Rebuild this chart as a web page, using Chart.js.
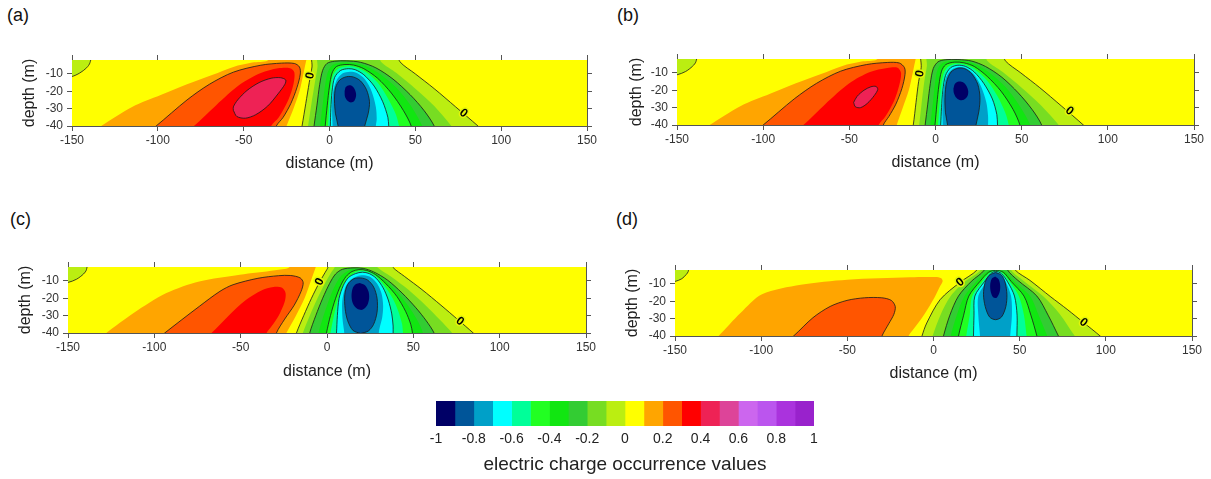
<!DOCTYPE html>
<html>
<head>
<meta charset="utf-8">
<script src="https://cdn.jsdelivr.net/npm/chart.js"></script>
<style>
  body { margin: 0; background: #fff; width: 1211px; height: 479px; position: relative; overflow: hidden;
         font-family: "Liberation Sans", Arial, sans-serif; }
  .tag { position: absolute; font-size: 18px; line-height: 20px; color: #111; }
</style>
</head>
<body>
<script>
// ---- axes / ticks ----
const xTicks = [-150, -100, -50, 0, 50, 100, 150];
const yTicks = [-40, -30, -20, -10];
const xRange = [-150, 150];
const yRange = [-40, -2];
const levelTicks = [-1, -0.8, -0.6, -0.4, -0.2, 0, 0.2, 0.4, 0.6, 0.8, 1];
const levelEdges = [-1, -0.9, -0.8, -0.7, -0.6, -0.5, -0.4, -0.3, -0.2, -0.1, 0,
                    0.1, 0.2, 0.3, 0.4, 0.5, 0.6, 0.7, 0.8, 0.9, 1];
const levelColors = ['#000066', '#005599', '#00a0c8', '#00ffff', '#00ff99', '#22ff22', '#11e611',
                     '#33cc33', '#77dd22', '#bbee11', '#ffff00', '#ffa500', '#ff5500', '#ff0000',
                     '#ee2255', '#dd4499', '#cc66ee', '#bb55ee', '#aa33dd', '#9922cc'];

// ---- contour outlines: [level, [[distance, depth], ...]] ----
const contoursA = [
  [0.1, [[-140,-45],[-133,-40],[-115,-29],[-98,-22],[-83,-16],[-68,-10.5],[-56,-6],[-45,-3.5],[-36,-2.3],[-33,3],[-12,3],[-13.5,-2],[-15,-9],[-17.5,-20],[-21,-30],[-25,-40],[-26,-45]]],
  [0.2, [[-108,-45],[-101,-40],[-83,-25],[-70,-16],[-56,-9],[-40,-5],[-28,-3.8],[-20.5,-4],[-17.5,-6],[-17,-10],[-19,-18],[-22.5,-27],[-27,-35],[-31,-40],[-32,-45]]],
  [0.3, [[-86,-45],[-79,-40],[-66,-28],[-52,-16],[-40,-9.5],[-30,-6.8],[-23,-6.7],[-20.5,-9],[-21,-16],[-24,-25],[-29.5,-35],[-34,-40],[-35,-45]]],
  [0.4, [[-56,-31],[-54,-34.5],[-49,-35.5],[-43,-33.5],[-36,-28.5],[-30,-21.5],[-26,-16],[-25.5,-13.5],[-28.5,-12.2],[-34,-12.5],[-41,-15],[-48,-19.5],[-53.5,-25],[-56,-29],[-56,-31]]],
  [0, [[-155,-12],[-150,-11.5],[-145.5,-9.5],[-141.5,-6.5],[-139.5,-3.5],[-139,3],[-155,3]]],
  [0, [[-17,-45],[-16,-40],[-13.8,-27],[-11.8,-15],[-10.2,-6],[-9.5,3],[39,3],[41,-3],[50,-10],[61,-18.5],[73.5,-29],[86.5,-40],[92,-45]]],
  [-0.1, [[-13.5,-45],[-12.5,-40],[-10.5,-27],[-8.5,-15],[-7,-6],[-6.5,3],[28,3],[30,-3],[39,-9.5],[50,-18.5],[61,-28.5],[71,-40],[75,-45]]],
  [-0.2, [[-9.5,-45],[-9,-40],[-7.3,-28],[-5.7,-16],[-4,-8],[-1.5,-4],[3,-2.7],[10,-2.5],[18,-3.3],[27,-6.5],[37,-13],[47,-22],[55,-31],[61,-40],[62,-45]]],
  [-0.3, [[-6,-45],[-5.5,-40],[-4,-28],[-2.5,-16],[-0.8,-8.5],[2,-4.8],[8,-3.5],[14,-3.7],[21,-5.5],[30,-10.5],[39,-18],[47.5,-28.5],[54,-40],[55,-45]]],
  [-0.4, [[-3,-45],[-2.5,-40],[-1.3,-28],[0,-17],[1.5,-9.5],[4,-5.8],[9,-4.6],[14,-4.9],[20,-7],[28,-12.5],[36,-21],[43,-31],[47.6,-40],[48,-45]]],
  [-0.5, [[-1,-45],[-0.8,-40],[-0.2,-29],[0.6,-18],[2.2,-10.5],[5,-7],[10,-5.7],[15,-6.2],[21,-8.8],[28,-15],[34,-24],[38.5,-33],[40.5,-40],[41,-45]]],
  [-0.6, [[0.5,-45],[0.5,-40],[0.8,-30],[1.5,-20],[3,-12],[6.5,-8],[11,-7],[15,-7.6],[20,-10.5],[26,-17],[31,-26],[34,-35],[34.5,-40],[35,-45]]],
  [-0.7, [[1.8,-45],[1.8,-40],[1.5,-31],[1.9,-22],[4,-14],[7.5,-9.8],[12,-8.7],[16,-9.5],[20.5,-13],[24.5,-20],[27,-29],[27.5,-36],[27,-40],[27,-45]]],
  [-0.8, [[5,-45],[5,-40],[3.5,-33],[2.9,-25],[3.5,-18],[6,-13.5],[10,-11.6],[14,-11.8],[18,-14],[21.5,-19],[23.3,-26],[22.5,-33],[20.5,-40],[20,-45]]],
  [-0.9, [[8.8,-20],[9.5,-17.6],[11.5,-16.6],[13.5,-17.2],[15,-19.5],[15.5,-22.5],[14.5,-25.5],[12.5,-26.5],[10.5,-25.5],[9,-23],[8.8,-20]]]
];
const zeroLabelsA = [[-11.2, -11, -80], [78, -32.7, 39]];

const contoursB = [
  [0.1, [[-138,-45],[-131,-40],[-113,-29],[-96,-22],[-81,-16],[-66,-10.5],[-54,-6],[-43,-3.5],[-34,-2.3],[-31,3],[-10,3],[-11.5,-2],[-13,-9],[-15.5,-20],[-19,-30],[-22.5,-40],[-23.5,-45]]],
  [0.2, [[-107,-45],[-100,-40],[-82,-25],[-69,-16],[-55,-9],[-40,-5.2],[-28,-4],[-21,-4.3],[-18,-7],[-17.7,-11],[-19.5,-19],[-23,-28],[-27,-35],[-30.3,-40],[-31,-45]]],
  [0.3, [[-84,-45],[-76.7,-40],[-64,-28],[-50,-16],[-38,-9.5],[-28,-7.2],[-22,-7],[-20,-10],[-21,-17],[-24,-26],[-29,-35],[-33,-40],[-34,-45]]],
  [0.4, [[-47.5,-27],[-46.5,-29.5],[-43.5,-30],[-39.5,-27.5],[-35.5,-23],[-33.5,-19.5],[-34.5,-17.8],[-37.5,-18],[-41.5,-20],[-45.5,-23.5],[-47.5,-27]]],
  [0, [[-155,-11.5],[-150,-11.1],[-145,-9.2],[-141,-6.2],[-139,-3.5],[-138.6,3],[-155,3]]],
  [0, [[-14,-45],[-12.9,-40],[-11.3,-27],[-9.8,-15],[-8.3,-7],[-7.5,3],[38.4,3],[40.5,-3],[49.5,-10],[60.5,-18.5],[73,-29],[85.8,-40],[91,-45]]],
  [-0.1, [[-10.5,-45],[-9.5,-40],[-8,-27],[-6.5,-15],[-5,-6],[-4.5,3],[28,3],[30,-3],[39,-9.5],[50,-18.5],[61,-28.5],[71.5,-40],[75,-45]]],
  [-0.2, [[-6.5,-45],[-6,-40],[-4.5,-28],[-3,-16],[-1.3,-7.5],[1.5,-3.6],[6,-2.4],[13,-2.3],[21,-3.2],[29,-6.3],[38.5,-12.5],[48,-21.5],[56,-31],[61.6,-40],[62,-45]]],
  [-0.3, [[-3.5,-45],[-3,-40],[-1.6,-28],[-0.3,-16],[1.2,-8],[4,-4.3],[10,-3],[16,-3.2],[23,-5],[31.5,-10],[40.5,-18],[48.5,-28.5],[55,-40],[56,-45]]],
  [-0.4, [[-1,-45],[-0.3,-40],[0.8,-28],[2,-17],[3.5,-9],[6,-5.2],[11,-3.8],[16.5,-4.2],[22.5,-6.3],[30,-12],[38,-20.5],[45,-31],[49,-40],[49.5,-45]]],
  [-0.5, [[1,-45],[1.5,-40],[2.3,-29],[3.2,-18],[4.8,-10],[7.5,-6.3],[12,-4.8],[17,-5.3],[23,-8],[30,-14.5],[36,-23.5],[40.5,-33],[42.5,-40],[43,-45]]],
  [-0.6, [[2.5,-45],[3,-40],[3.5,-30],[4.3,-20],[5.8,-11.5],[8.8,-7],[13,-5.6],[17.5,-6.3],[22.5,-9.5],[28,-16],[33,-25],[35.6,-34],[36,-40],[36.5,-45]]],
  [-0.7, [[4,-45],[4.2,-40],[4,-31],[4.4,-21],[6.2,-12.5],[9.5,-8],[14,-6.6],[18,-7.4],[22.5,-11],[26.5,-18],[29.5,-27],[30.5,-35],[30.5,-40],[30.5,-45]]],
  [-0.8, [[7,-45],[7,-40],[5.8,-33],[5.5,-24],[6.5,-15],[9,-9.5],[13,-7.3],[17,-7.6],[21,-10.5],[24.5,-16.5],[25.8,-24],[25.2,-32],[23.5,-40],[23,-45]]],
  [-0.9, [[10.4,-19],[11.3,-16.2],[13.5,-15],[16,-15.4],[18,-17.5],[19,-20.5],[18.5,-23.5],[16.5,-25.5],[14,-25.6],[11.8,-24],[10.6,-21.5],[10.4,-19]]]
];
const zeroLabelsB = [[-9, -10.5, -80], [77.7, -32, 39]];

const contoursC = [
  [0.1, [[-134,-45],[-127.8,-40],[-112,-28.5],[-93,-17],[-74,-10.3],[-50.5,-6.4],[-30,-3.8],[-22,-2.3],[-20,3],[-5,3],[-6.5,-2],[-9,-9],[-13,-20],[-18,-30],[-23.5,-40],[-25,-45]]],
  [0.2, [[-100,-45],[-94,-40],[-74,-24.7],[-62,-16],[-54.4,-12.2],[-40,-8.5],[-28,-7],[-21,-6.9],[-15.5,-8.3],[-13.8,-11],[-15,-16],[-19,-24],[-24.5,-32],[-29.3,-40],[-30,-45]]],
  [0.3, [[-73,-45],[-66.9,-40],[-57,-30],[-47,-21],[-38,-15.5],[-31,-13.5],[-26,-14],[-24,-17],[-24.5,-22],[-28,-30],[-32,-36],[-35,-40],[-36,-45]]],
  [0, [[-155,-11.3],[-150,-10.9],[-145,-9],[-141,-6],[-139.3,-3.5],[-139,3],[-155,3]]],
  [0, [[-19,-45],[-17.7,-40],[-13.5,-30],[-9,-20],[-4.2,-10.5],[-1,-5],[0.6,-2],[1,3],[36,3],[38,-2],[45,-7.5],[55,-15],[66,-24],[76,-32.5],[84.7,-40],[90,-45]]],
  [-0.1, [[-15,-45],[-14,-40],[-10,-30],[-5.5,-20],[-1,-11],[2.5,-5],[4.5,-2],[5,3],[27,3],[29,-2],[37,-7.5],[47,-15],[57,-24],[65.5,-32.5],[72.5,-40],[76,-45]]],
  [-0.2, [[-10.5,-45],[-10,-40],[-6.5,-30],[-2.5,-20],[1.5,-11.5],[5,-6],[9,-3.3],[15,-2.5],[21,-2.8],[27,-4.8],[35,-9.5],[43.5,-17],[51.5,-25.5],[57.5,-33],[62,-40],[63,-45]]],
  [-0.3, [[-5.5,-45],[-5,-40],[-2,-30],[1.5,-20],[5,-12],[8.5,-6.8],[12.5,-4],[17,-3],[22,-3.4],[27.5,-5.5],[34.5,-10.5],[42,-18],[48.5,-26.5],[53,-34],[55.5,-40],[56,-45]]],
  [-0.4, [[-1,-45],[-0.3,-40],[2,-30],[5,-20],[8,-12.5],[11,-7.5],[14.5,-4.6],[18.5,-3.5],[23,-4],[28,-6.3],[34,-11.5],[40.5,-19],[45.5,-27.5],[48.5,-35],[49.5,-40],[50,-45]]],
  [-0.5, [[1.5,-45],[2,-40],[4,-30],[6.5,-20],[9.5,-12.5],[12.5,-8],[16,-5.3],[19.5,-4.2],[23.5,-4.8],[28,-7.2],[33,-12.5],[38,-20],[41.5,-28],[43.5,-35],[44,-40],[44.5,-45]]],
  [-0.6, [[5,-45],[5.5,-40],[6,-30],[7,-20],[9.5,-12.5],[12.5,-8],[16.5,-5.8],[20.5,-5],[24.5,-5.8],[28.5,-8.5],[32.5,-14],[35.5,-21],[37.5,-29],[38.3,-36],[38.3,-40],[38.5,-45]]],
  [-0.7, [[10,-45],[10,-40],[9,-32],[8.8,-22],[10.5,-14],[13.5,-9.5],[17.5,-7.3],[21.5,-6.8],[25.5,-8],[29,-11.5],[31.5,-17],[32.5,-24],[32,-31],[30.5,-37],[30,-40],[30,-45]]],
  [-0.8, [[19.5,-40.3],[15,-38.5],[12,-33],[10.5,-26],[10.3,-18],[12,-12],[15.5,-8.8],[19.5,-8.3],[23.5,-9.5],[27,-13.5],[29,-20],[29,-28],[27,-35],[24,-38.8],[19.5,-40.3]]],
  [-0.9, [[19,-11.2],[22,-12.5],[24,-16],[24.4,-20],[23.3,-24],[20.5,-26.6],[17.5,-26],[15,-23],[14.2,-18.5],[15,-14],[16.8,-11.8],[19,-11.2]]]
];
const zeroLabelsC = [[-4.2, -10.5, -64], [77, -33.3, 38]];

const contoursD = [
  [0.1, [[-130,-45],[-124.7,-40],[-112,-26.8],[-99.5,-16],[-77,-10.5],[-50,-7.6],[-13.5,-6.2],[1,-6.1],[4.5,-6.8],[5.3,-8.5],[3.5,-12],[0.5,-18],[-5,-27],[-10,-34],[-14.5,-40],[-16,-45]]],
  [0.2, [[-88,-45],[-81.2,-40],[-70,-29.5],[-60,-23],[-50.2,-19.5],[-40,-18],[-30,-18],[-24.5,-19.5],[-22.2,-23],[-23,-27.5],[-26,-33],[-29.9,-40],[-31,-45]]],
  [0, [[-155,-9],[-150,-8.6],[-146,-7],[-143.5,-4.6],[-142.3,-2.8],[-142,3],[-155,3]]],
  [0, [[-8,-45],[-6.7,-40],[-3.9,-32.5],[3.9,-19],[15.5,-9],[25.2,-2],[26,3],[46.5,3],[47.4,-2],[56,-8],[67.7,-17.2],[78,-25],[87,-32.2],[96.7,-40],[102,-45]]],
  [-0.1, [[-1.5,-45],[-0.5,-40],[4,-28],[10,-17],[18.5,-8.5],[27.5,-2],[28,3],[44.5,3],[45,-2],[52,-8],[63.5,-17],[73,-27],[82,-40],[86,-45]]],
  [-0.2, [[5,-45],[5.8,-40],[9.5,-28],[14.5,-17],[22,-8.5],[29.5,-2],[30,3],[42.5,3],[43,-2],[49,-8],[60,-17],[66.5,-28],[72.5,-40],[75,-45]]],
  [-0.3, [[9.5,-45],[10,-40],[13.5,-28],[18,-17],[25,-8.5],[31,-3],[36,-2.1],[41.5,-3],[46.5,-8.5],[56,-17],[61,-28],[66,-40],[67.5,-45]]],
  [-0.4, [[14,-45],[14.5,-40],[17.5,-28],[20.5,-17],[27,-8.5],[32,-3.3],[36,-2.3],[40.5,-3.3],[45,-8.5],[52.5,-17],[56.5,-28],[60,-40],[61,-45]]],
  [-0.5, [[18.5,-45],[19,-40],[21,-28],[22.5,-17],[28.5,-8.5],[32.8,-3.6],[36,-2.5],[39.7,-3.6],[44,-8.5],[49.5,-17],[52.5,-28],[54,-40],[54.5,-45]]],
  [-0.6, [[23,-45],[23.2,-40],[23.5,-28],[24,-17],[29.5,-8.8],[33.3,-4],[36,-2.8],[39.3,-4],[43,-8.8],[47,-17],[48.5,-28],[48.4,-40],[48.5,-45]]],
  [-0.7, [[27,-45],[27,-40],[26,-28],[26,-17],[30.5,-9],[33.7,-4.3],[36,-3.1],[38.8,-4.3],[42,-9],[45,-17],[45.5,-28],[44.5,-40],[44.5,-45]]],
  [-0.8, [[36,-3.4],[39.5,-5],[41.5,-9],[42.6,-16],[42,-23],[39.5,-29],[36,-30.6],[32.5,-29],[30,-23],[29,-16],[30,-9],[32.5,-5],[36,-3.4]]],
  [-0.9, [[35.8,-5.7],[37.8,-7.3],[38.7,-11],[38.3,-15],[36.5,-18.1],[34.5,-17.5],[33.2,-14.5],[32.9,-10.5],[33.8,-7],[35.8,-5.7]]]
];
const zeroLabelsD = [[15.5, -9.1, -39], [87, -32.2, 39]];

// ---- page layout ----
Chart.defaults.font.family = '"Liberation Sans", Arial, sans-serif';
const frame = { left: 72, right: 15, top: 25, bottom: 55 };

function addCanvas(left, top, w, h) {
  const c = document.createElement('canvas');
  c.width = w; c.height = h;
  c.style.cssText = `position:absolute;left:${left}px;top:${top}px;width:${w}px;height:${h}px`;
  document.body.appendChild(c);
  return c;
}

function addTag(text, left, top) {
  const d = document.createElement('div');
  d.className = 'tag';
  d.style.left = left + 'px';
  d.style.top = top + 'px';
  d.textContent = text;
  document.body.appendChild(d);
}

function levelColor(v) {
  const i = v > 0 ? Math.round((v + 1) * 10) : Math.round((v + 0.9) * 10);
  return levelColors[i];
}

const yellowBg = {
  id: 'yellowBg',
  beforeDatasetsDraw(chart) {
    const { ctx, chartArea: a } = chart;
    ctx.save();
    ctx.fillStyle = levelColors[10];
    ctx.fillRect(a.left, a.top, a.right - a.left, a.bottom - a.top);
    ctx.restore();
  }
};

const zeroLabels = {
  id: 'zeroLabels',
  afterDatasetsDraw(chart, args, opts) {
    const { ctx, scales } = chart;
    ctx.save();
    ctx.font = 'bold 12px "Liberation Sans", Arial, sans-serif';
    ctx.textAlign = 'center';
    ctx.textBaseline = 'middle';
    for (const [vx, vy, ang] of opts.items) {
      ctx.save();
      ctx.translate(scales.x.getPixelForValue(vx), scales.y.getPixelForValue(vy));
      ctx.rotate(ang * Math.PI / 180);
      ctx.lineWidth = 3;
      ctx.strokeStyle = '#e4f50a';
      ctx.strokeText('0', 0, 0);
      ctx.fillStyle = '#000';
      ctx.fillText('0', 0, 0);
      ctx.restore();
    }
    ctx.restore();
  }
};

const edge = { drawOnChartArea: false, drawTicks: true, tickLength: 5, color: '#555', lineWidth: 1 };
const edgeBorder = { display: true, color: '#555', width: 1 };

function xAxis(pos, titlePad) {
  const main = pos === 'bottom';
  return {
    type: 'linear', position: pos, min: xRange[0], max: xRange[1],
    afterBuildTicks: s => { s.ticks = xTicks.map(v => ({ value: v })); },
    afterFit: s => { s.height = main ? frame.bottom : frame.top; },
    ticks: { display: main, padding: 2, maxRotation: 0, autoSkip: false, color: '#333',
             font: { size: 12 }, callback: v => String(v) },
    grid: edge, border: edgeBorder,
    title: { display: main, text: 'distance (m)', color: '#222', font: { size: 16 },
             padding: { top: 0, bottom: titlePad } }
  };
}

function yAxis(pos, titlePad) {
  const main = pos === 'left';
  return {
    type: 'linear', position: pos, min: yRange[0], max: yRange[1],
    afterBuildTicks: s => { s.ticks = yTicks.map(v => ({ value: v })); },
    afterFit: s => { s.width = main ? frame.left : frame.right; },
    ticks: { display: main, padding: 4, color: '#333', font: { size: 12 }, callback: v => String(v) },
    grid: edge, border: edgeBorder,
    title: { display: main, text: 'depth (m)', color: '#222', font: { size: 16 },
             padding: { top: titlePad, bottom: 0 } }
  };
}

function contourPanel(tag, area, contours, labels, yPad, xPad) {
  const canvas = addCanvas(area.l - frame.left, area.t - frame.top,
                           area.r - area.l + frame.left + frame.right,
                           area.b - area.t + frame.top + frame.bottom);
  addTag(tag, area.tagX, area.tagY);
  const datasets = contours.map(([v, pts]) => {
    const lined = Math.round(v * 10) % 2 === 0;
    return {
      data: pts.map(([x, y]) => ({ x, y })),
      showLine: true,
      fill: 'shape',
      tension: 0.3,
      pointRadius: 0,
      pointHoverRadius: 0,
      backgroundColor: levelColor(v),
      borderColor: lined ? '#1a1a1a' : 'rgba(0,0,0,0)',
      borderWidth: lined ? 0.8 : 0.1
    };
  }).reverse();   // first listed is painted first (underneath)

  new Chart(canvas, {
    type: 'scatter',
    data: { datasets },
    options: {
      responsive: false,
      animation: false,
      events: [],
      layout: { padding: 0 },
      scales: {
        x: xAxis('bottom', xPad),
        x2: xAxis('top', 0),
        y: yAxis('left', yPad),
        y2: yAxis('right', 0)
      },
      plugins: {
        legend: { display: false },
        tooltip: { enabled: false },
        zeroLabels: { items: labels }
      }
    },
    plugins: [yellowBg, zeroLabels]
  });
}

contourPanel('(a)', { l: 72, r: 587, t: 60, b: 126, tagX: 7, tagY: 5 }, contoursA, zeroLabelsA, 20.4, 7.4);
contourPanel('(b)', { l: 677, r: 1194, t: 59, b: 125, tagX: 617, tagY: 5 }, contoursB, zeroLabelsB, 22, 7.4);
contourPanel('(c)', { l: 68, r: 586, t: 267, b: 333, tagX: 10, tagY: 209 }, contoursC, zeroLabelsC, 20.4, 6.7);
contourPanel('(d)', { l: 675, r: 1192, t: 270, b: 336, tagX: 616, tagY: 209 }, contoursD, zeroLabelsD, 20, 7.4);

// ---- colour scale ----
const barCanvas = addCanvas(400, 390, 450, 89);
new Chart(barCanvas, {
  type: 'bar',
  data: {
    labels: [''],
    datasets: levelColors.map((c, i) => ({
      data: [[levelEdges[i], levelEdges[i + 1]]],
      backgroundColor: c,
      borderWidth: 0,
      grouped: false,
      barPercentage: 1,
      categoryPercentage: 1
    }))
  },
  options: {
    indexAxis: 'y',
    responsive: false,
    animation: false,
    events: [],
    layout: { padding: { left: 36, right: 36, top: 11, bottom: 0 } },
    scales: {
      x: {
        type: 'linear', min: -1, max: 1,
        afterBuildTicks: s => { s.ticks = levelTicks.map(v => ({ value: v })); },
        afterFit: s => { s.height = 53; },
        ticks: { padding: 5, color: '#222', font: { size: 14 }, callback: v => String(v) },
        grid: { display: false, drawTicks: false },
        border: { display: false },
        title: { display: true, text: 'electric charge occurrence values', color: '#222',
                 font: { size: 19 }, padding: { top: 0, bottom: 2.6 } }
      },
      y: { display: false }
    },
    plugins: { legend: { display: false }, tooltip: { enabled: false } }
  }
});
</script>
</body>
</html>
